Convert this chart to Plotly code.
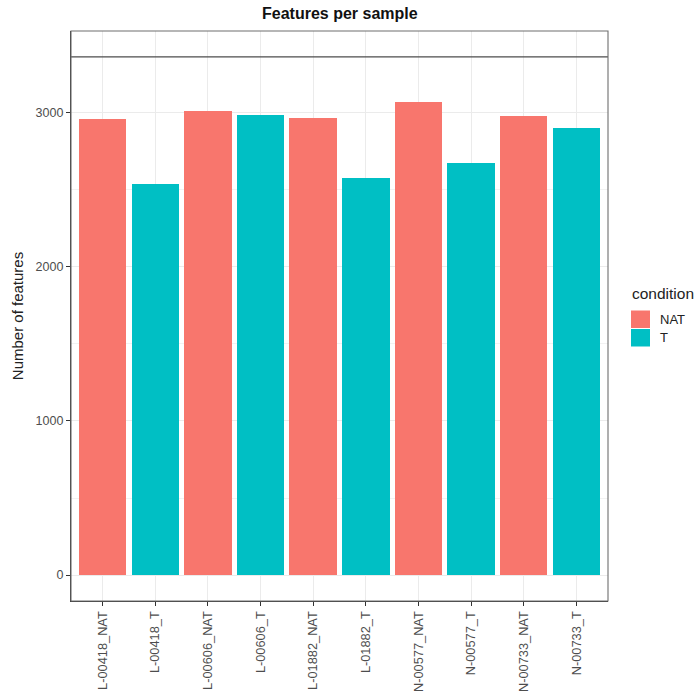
import plotly.graph_objects as go

# Sample data: number of detected features per sample
samples = ["L-00418_NAT", "L-00418_T", "L-00606_NAT", "L-00606_T", "L-01882_NAT",
           "L-01882_T", "N-00577_NAT", "N-00577_T", "N-00733_NAT", "N-00733_T"]
conditions = ["NAT", "T", "NAT", "T", "NAT", "T", "NAT", "T", "NAT", "T"]
features = [2959, 2535, 3007, 2985, 2968, 2574, 3067, 2672, 2977, 2899]
total_features = 3361

condition_levels = ["NAT", "T"]
palette = {"NAT": "#F8766D", "T": "#00BFC4"}

FONT = "Liberation Sans, Arial, sans-serif"
W, H = 697, 698
L, R, T, B = 71, 89, 31, 97
pw, ph = W - L - R, H - T - B

fig = go.Figure()
fig.add_trace(go.Bar(
    x=list(range(len(samples))),
    y=features,
    width=0.9,
    marker=dict(color=[palette[c] for c in conditions], line=dict(width=0)),
    showlegend=False,
    hovertext=samples,
))

# reference line for total feature count
fig.add_shape(type="line", xref="paper", x0=0, x1=1, yref="y",
              y0=total_features, y1=total_features,
              line=dict(color="#4D4D4D", width=1.2), layer="above")

# panel border
fig.add_shape(type="rect", xref="paper", yref="paper", x0=0, x1=1, y0=0, y1=1,
              line=dict(color="#6E6E6E", width=1.1), layer="above")

ymax = total_features
pad = ymax * 0.05
fig.update_layout(
    width=W, height=H,
    margin=dict(l=L, r=R, t=T, b=B, autoexpand=False),
    paper_bgcolor="white", plot_bgcolor="white",
    font=dict(family=FONT, color="#4D4D4D", size=12),
    bargap=0,
    xaxis=dict(
        range=[-0.6, len(samples) - 0.4],
        tickmode="array", tickvals=list(range(len(samples))), ticktext=samples,
        tickangle=-90, tickfont=dict(size=12.8, color="#4D4D4D"),
        showgrid=True, gridcolor="#EBEBEB", gridwidth=1,
        ticks="outside", ticklen=4, tickcolor="#333333", tickwidth=1,
        showline=True, linecolor="#333333", linewidth=1.2,
        zeroline=False, fixedrange=True,
    ),
    yaxis=dict(
        range=[-pad, ymax + pad],
        tickmode="array", tickvals=[0, 1000, 2000, 3000],
        tickfont=dict(size=12.5, color="#4D4D4D"),
        showgrid=True, gridcolor="#EBEBEB", gridwidth=1,
        minor=dict(tickmode="array", tickvals=[500, 1500, 2500], showgrid=True,
                   gridcolor="#F2F2F2", gridwidth=0.6, ticks=""),
        ticks="outside", ticklen=4, tickcolor="#333333", tickwidth=1,
        showline=True, linecolor="#333333", linewidth=1.2,
        zeroline=False, fixedrange=True,
        title=dict(text="Number of features", font=dict(size=15, color="#222222"),
                   standoff=8),
    ),
)

# title
fig.add_annotation(text="<b>Features per sample</b>", xref="paper", yref="paper",
                   x=0.5, y=1 + (T - 14) / ph, xanchor="center", yanchor="middle",
                   showarrow=False, font=dict(size=16, color="#111111"))

# legend
def px_x(x):
    return (x - L) / pw

def px_y(y):
    return (H - B - y) / ph

fig.add_annotation(text="condition", xref="paper", yref="paper",
                   x=px_x(630), y=px_y(293), xanchor="left", yanchor="middle",
                   showarrow=False, font=dict(size=15.5, color="#222222"))
key_top = 310
key_h = 18.5
for i, lvl in enumerate(condition_levels):
    y0 = key_top + i * key_h
    fig.add_shape(type="rect", xref="paper", yref="paper",
                  x0=px_x(631), x1=px_x(650), y0=px_y(y0 + key_h - 0.5), y1=px_y(y0 + 0.5),
                  fillcolor=palette[lvl], line=dict(width=0))
    fig.add_annotation(text=lvl, xref="paper", yref="paper",
                       x=px_x(658), y=px_y(y0 + key_h / 2), xanchor="left", yanchor="middle",
                       showarrow=False, font=dict(size=13, color="#222222"))

fig.write_html("out.html")
